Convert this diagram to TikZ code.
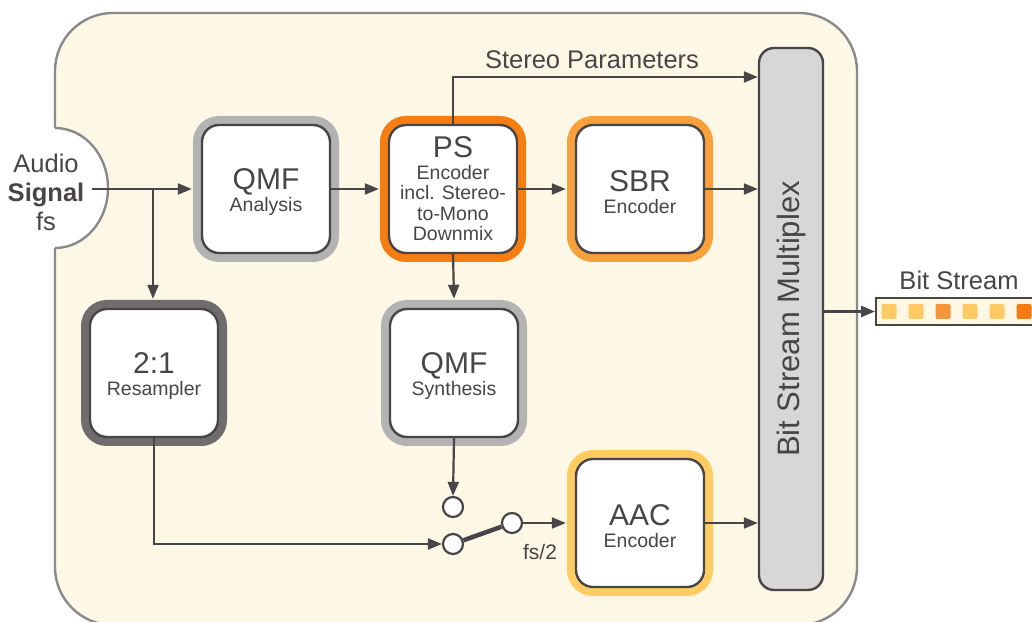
\documentclass[tikz,border=0pt]{standalone}
\usepackage{fontspec}
\setmainfont{Liberation Sans}
\usetikzlibrary{arrows.meta,calc}
\definecolor{cream}{HTML}{FDF7E6}
\definecolor{outline}{HTML}{8A8A8A}
\definecolor{ink}{HTML}{474545}
\definecolor{qmfgray}{HTML}{B3B3B3}
\definecolor{psorange}{HTML}{F57D12}
\definecolor{sbrorange}{HTML}{F8A03C}
\definecolor{aacyellow}{HTML}{FFCB63}
\definecolor{rsgray}{HTML}{6E6C6C}
\definecolor{muxgray}{HTML}{D7D7D7}
\definecolor{sqlight}{HTML}{FFC966}
\definecolor{sqmid}{HTML}{F7953A}
\definecolor{sqdark}{HTML}{F47A12}
\newcommand{\bigtxt}{\fontsize{30}{31}\selectfont}
\newcommand{\smtxt}{\fontsize{19.5}{21}\selectfont}
\newcommand{\pstxt}{\fontsize{19.5}{20.5}\selectfont}
\newcommand{\lbltxt}{\fontsize{25.5}{28}\selectfont}
\newcommand{\topgap}{\rule{0pt}{28pt}}
\begin{document}
\begin{tikzpicture}[x=1pt,y=1pt,
  every node/.style={text=ink},
  blk/.style={draw=ink, line width=2.4pt, fill=white, rounded corners=17pt,
    minimum width=128pt, minimum height=128pt, inner sep=0pt, align=center, font=\smtxt},
  ring/.style={preaction={draw=#1, line width=18pt}},
  arr/.style={draw=ink, line width=2.2pt, -{Triangle[length=14pt,width=11pt]}},
  sw/.style={circle, draw=ink, line width=2.2pt, fill=white, minimum size=20pt, inner sep=0pt},
  sq/.style={rounded corners=2pt, minimum size=15pt, inner sep=0pt}
]
\useasboundingbox (0,0) rectangle (1032,621);
\fill[white] (0,0) rectangle (1032,621);
% outer container
\draw[outline, line width=2.4pt, fill=cream, rounded corners=58pt] (55,-4) rectangle (857,608);
% notch
\fill[white] (55,433) ellipse[x radius=53, y radius=60];
\draw[outline, line width=2.4pt] (55,373) arc[start angle=-90, end angle=90, x radius=53, y radius=60];
\node[align=center, inner sep=0pt, font=\fontsize{25.5}{29}\selectfont] (sig) at (46,429)
  {Audio\\ \textbf{Signal}\\ fs};

% blocks
\node[blk, ring=qmfgray] (qa) at (266,432) {\bigtxt\topgap QMF\\[1pt] Analysis};
\node[blk, ring=psorange, font=\pstxt] (ps) at (453,432)
  {\bigtxt PS\\[1pt] Encoder\\ incl. Stereo-\\ to-Mono\\ Downmix};
\node[blk, ring=sbrorange] (sbr) at (640,432) {\bigtxt\topgap SBR\\[1pt] Encoder};
\node[blk, ring=rsgray] (rs) at (154,248) {\bigtxt\topgap 2:1\\[1pt] Resampler};
\node[blk, ring=qmfgray] (qs) at (454,248) {\bigtxt\topgap QMF\\[1pt] Synthesis};
\node[blk, ring=aacyellow] (aac) at (640,98) {\bigtxt\topgap AAC\\[1pt] Encoder};

% multiplexer
\node[draw=ink, line width=2.4pt, fill=muxgray, rounded corners=15pt,
  minimum width=64pt, minimum height=542pt, inner sep=0pt] (mux) at (791,302) {};
\node[rotate=90, font=\fontsize{31}{33}\selectfont] at (mux.center) {Bit Stream Multiplex};

% switch
\node[sw] (s1) at (453,114) {};
\node[sw] (s2) at (453,77) {};
\node[sw] (s3) at (512,98) {};
\node[font=\fontsize{21}{23}\selectfont] at (540,69) {fs/2};

% bit stream
\node[draw=ink, line width=2.4pt, fill=cream, minimum width=172pt, minimum height=27pt,
  inner sep=0pt, anchor=west] (bs) at (875,309.5) {};
\node[font=\lbltxt] at (959,341) {Bit Stream};
\node[sq, fill=sqlight] at (889,309.5) {};
\node[sq, fill=sqlight] at (916,309.5) {};
\node[sq, fill=sqmid] at (943,309.5) {};
\node[sq, fill=sqlight] at (970,309.5) {};
\node[sq, fill=sqlight] at (997,309.5) {};
\node[sq, fill=sqdark] at (1024,309.5) {};

% connectors
\coordinate (sigstart) at (92,432);
\coordinate (br) at (153,432);
\coordinate (spy) at (0,544);
\draw[arr] (sigstart) -- ($(qa.west)+(-9,0)$);
\draw[arr] (br) -- (br |- {$(rs.north)+(0,9)$});
\draw[arr] (qa.east) -- ($(ps.west)+(-9,0)$);
\draw[arr] (ps.east) -- ($(sbr.west)+(-9,0)$);
\draw[arr] (sbr.east) -- (sbr.east -| mux.west);
\draw[arr] (ps.north) |- (mux.west |- spy);
\node[font=\lbltxt] at (592,561) {Stereo Parameters};
\draw[arr] (ps.south) -- ($(qs.north)+(0,9)$);
\draw[arr] (qs.south) -- (s1.north);
\draw[arr] (rs.south) |- (s2.west);
\draw[ink, line width=4.5pt] (s2) -- (s3);
\draw[arr] (s3.east) -- ($(aac.west)+(-9,0)$);
\draw[arr] (aac.east) -- (aac.east -| mux.west);
\draw[arr] (mux.east |- bs.west) -- (bs.west);
\end{tikzpicture}
\end{document}
